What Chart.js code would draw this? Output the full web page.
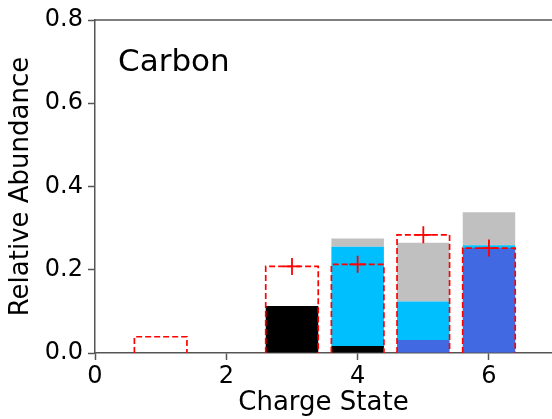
<!DOCTYPE html>
<html>
<head>
<meta charset="utf-8">
<script src="https://cdn.jsdelivr.net/npm/chart.js@4"></script>
<style>
  body { margin: 0; background: #fff; }
  #wrap { width: 552px; height: 419px; }
</style>
</head>
<body>
<div id="wrap"><canvas id="grafico"></canvas></div>
<script>
// charge states that have bars
const barX = [3, 4, 5, 6];
// stacked pieces, bottom to top
const blackVals = [0.113, 0.017, 0, 0];
const royalVals = [0, 0, 0.031, 0.252];
const skyVals = [0, 0.238, 0.093, 0.007];
const greyVals = [0, 0.02, 0.141, 0.079];

// red dashed reference boxes
const refX = [1, 3, 4, 5, 6];
const refVals = [0.039, 0.208, 0.213, 0.284, 0.252];

// red plus markers
const markX = [3, 4, 5, 6];
const markVals = [0.208, 0.213, 0.284, 0.252];

const xTicks = [0, 2, 4, 6];
const yTicks = [0.0, 0.2, 0.4, 0.6, 0.8];

const barW = 0.8;

Chart.defaults.font.family = 'DejaVu Sans';
Chart.defaults.color = '#000';

function pts(xs, ys) {
    return xs.map((x, i) => ({ x: x, y: ys[i] }));
}

// outline of each reference box (three sides), broken by nulls
const boxPts = [];
refX.forEach((x, i) => {
    boxPts.push({ x: x - barW / 2, y: 0 });
    boxPts.push({ x: x - barW / 2, y: refVals[i] });
    boxPts.push({ x: x + barW / 2, y: refVals[i] });
    boxPts.push({ x: x + barW / 2, y: 0 });
    boxPts.push({ x: x, y: null });
});

function barSet(vals, color) {
    return {
        type: 'bar',
        data: pts(barX, vals),
        backgroundColor: color,
        borderWidth: 0,
        grouped: false,
        barPercentage: barW,
        categoryPercentage: 1,
        order: 1
    };
}

const extras = {
    id: 'extras',
    afterDraw(chart) {
        const { ctx, chartArea } = chart;
        ctx.save();
        ctx.strokeStyle = '#555';
        ctx.lineWidth = 1.5;
        ctx.beginPath();
        ctx.moveTo(chartArea.left, chartArea.top);
        ctx.lineTo(chartArea.right, chartArea.top);
        ctx.stroke();
        ctx.fillStyle = '#000';
        ctx.font = '31px "DejaVu Sans"';
        ctx.textBaseline = 'alphabetic';
        ctx.fillText('Carbon', chartArea.left + 23, chartArea.top + 51);
        ctx.restore();
    }
};

const axisColor = '#555';

new Chart(document.getElementById('grafico'), {
    data: {
        datasets: [
            {
                type: 'line',
                data: pts(markX, markVals),
                yAxisID: 'y2',
                showLine: false,
                pointStyle: 'cross',
                pointRadius: 8.5,
                pointBorderWidth: 1.8,
                pointBorderColor: '#ff0000',
                order: 0
            },
            {
                type: 'line',
                data: boxPts,
                yAxisID: 'y2',
                borderColor: '#ff0000',
                borderWidth: 1.7,
                borderDash: [6, 3],
                pointRadius: 0,
                spanGaps: false,
                fill: false,
                tension: 0,
                order: 0
            },
            barSet(blackVals, '#000000'),
            barSet(royalVals, '#4169E1'),
            barSet(skyVals, '#00BFFF'),
            barSet(greyVals, '#C0C0C0')
        ]
    },
    options: {
        responsive: true,
        maintainAspectRatio: false,
        animation: false,
        layout: { autoPadding: false, padding: { top: 20, left: 0, right: 0, bottom: 0 } },
        plugins: {
            legend: { display: false },
            tooltip: { enabled: false }
        },
        scales: {
            x: {
                type: 'linear',
                min: 0,
                max: 6.96,
                offset: false,
                afterFit(s) { s.height = 66; s.paddingLeft = 0; s.paddingRight = 0; },
                afterBuildTicks(s) { s.ticks = xTicks.map(v => ({ value: v })); },
                ticks: { font: { size: 24 }, padding: 2, color: '#000' },
                grid: { offset: false, drawOnChartArea: false, tickLength: 7, color: axisColor, tickWidth: 1.5 },
                border: { color: axisColor, width: 1.5 },
                title: { display: true, text: 'Charge State', font: { size: 26 }, padding: { top: 0, bottom: 0 } }
            },
            y: {
                stacked: true,
                min: 0,
                max: 0.8,
                afterFit(s) { s.width = 95; },
                afterBuildTicks(s) { s.ticks = yTicks.map(v => ({ value: v })); },
                ticks: { font: { size: 24 }, padding: 5, color: '#000', callback: v => v.toFixed(1) },
                grid: { drawOnChartArea: false, tickLength: 7, color: axisColor, tickWidth: 1.5 },
                border: { color: axisColor, width: 1.5 },
                title: { display: true, text: 'Relative Abundance', font: { size: 26 }, padding: { top: 6, bottom: 0 } }
            },
            y2: {
                display: false,
                min: 0,
                max: 0.8
            }
        }
    },
    plugins: [extras]
});
</script>
</body>
</html>
